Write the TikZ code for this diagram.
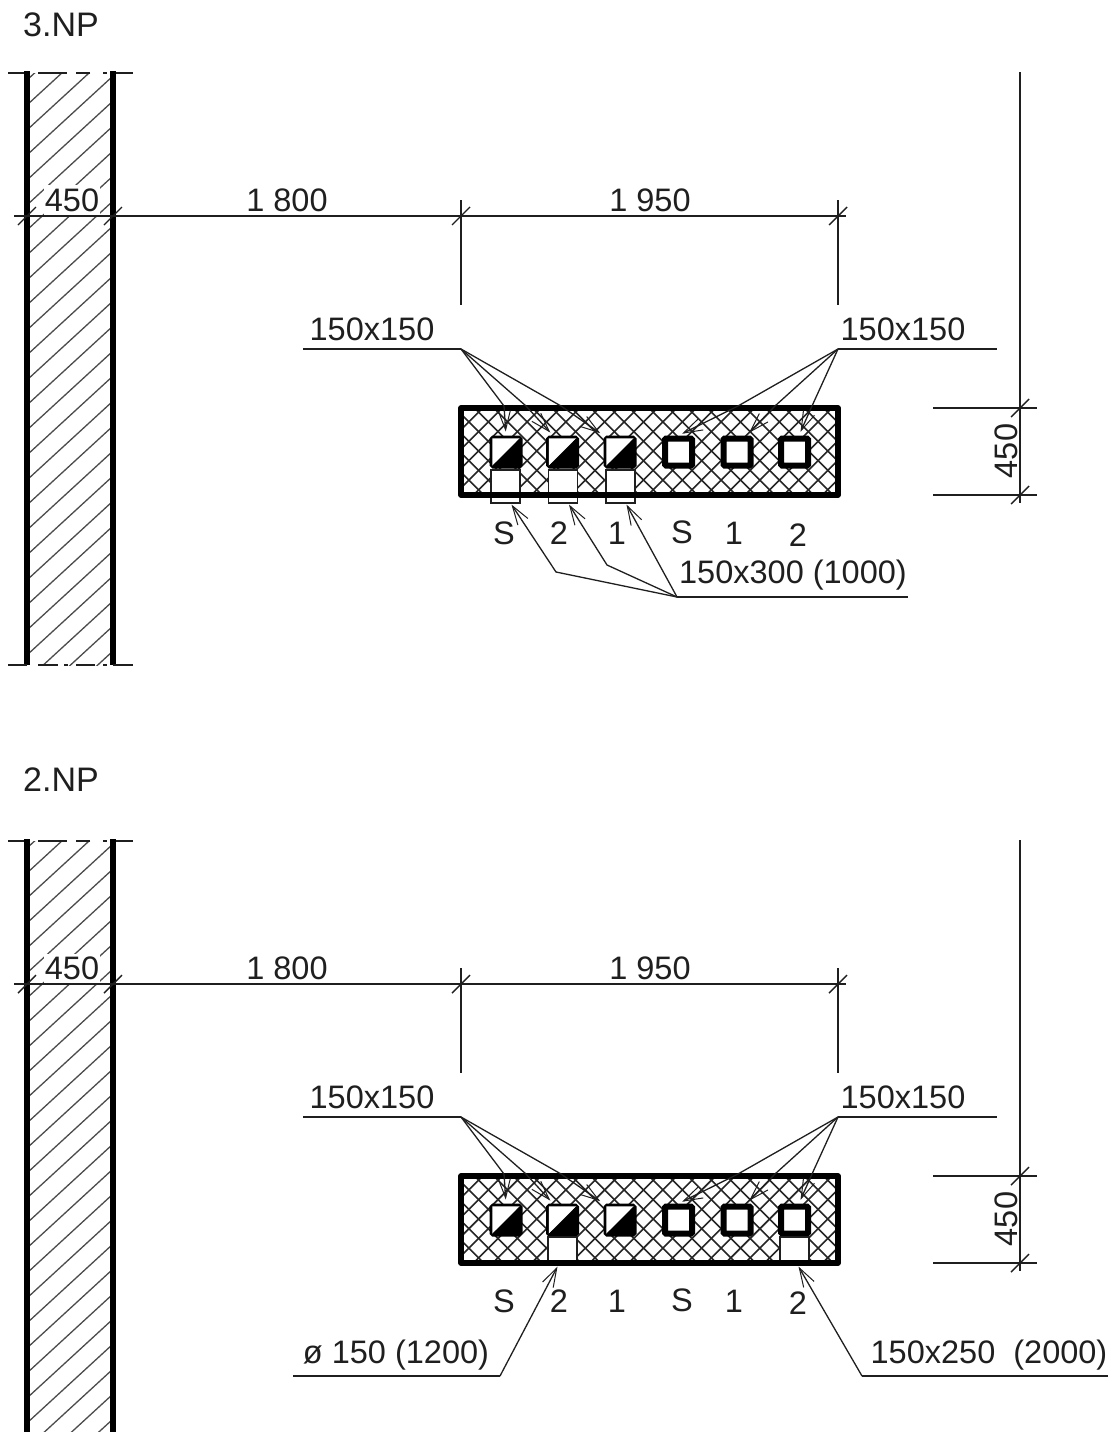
\documentclass[tikz,border=0pt]{standalone}
\usepackage{fontspec}
\setmainfont{Liberation Sans}
\usetikzlibrary{arrows.meta,calc}
\definecolor{ink}{gray}{0.12}
\tikzset{
  lbl/.style={inner sep=0pt,text=ink,font=\fontsize{32.5}{32.5}\selectfont},
  ttl/.style={lbl,font=\fontsize{34}{34}\selectfont},
  lblw/.style={lbl,fill=white,inner xsep=1pt,inner ysep=3pt},
  thin line/.style={line width=1.5pt,draw=ink},
  dimline/.style={line width=1.4pt,draw=ink},
  leaderarrow/.style={line width=1.3pt,draw=ink,-{Straight Barb[length=19pt,width=12pt,line width=1pt]}},
  hatchline/.style={line width=1.3pt,draw=black!70},
  crossline/.style={line width=1.6pt,draw=black!85},
  wallline/.style={line width=6.5pt,draw=black},
  boxline/.style={line width=5.5pt,draw=black,line join=round},
  ductsq/.style={draw=black,line width=6pt,fill=white,minimum size=27pt,inner sep=0pt,rounded corners=1pt},
  stubrect/.style={fill=white,draw=ink,line width=1.1pt,minimum width=29pt,inner sep=0pt},
}
% #1 prefix, #2 y shift, #3 wall bottom, #4 last hatch offset
\newcommand{\floorpart}[4]{%
\begin{scope}[shift={(0,#2)}]
  % wall hatching
  \begin{scope}
    \clip (27,73) rectangle (113,#3);
    \foreach \c in {80,105,...,#4} {\draw[hatchline] (27,\c) -- (113,\c-79);}
  \end{scope}
  % top break line
  \foreach \a/\b in {8/30,38/67,76/90,103/107,110/133} {\draw[thin line] (\a,73) -- (\b,73);}
  % wall
  \draw[wallline] (27,71) -- (27,#3);
  \draw[wallline] (113,71) -- (113,#3);
  % horizontal dimension
  \coordinate (#1dl) at (14,216);
  \coordinate (#1dr) at (846,216);
  \node[lblw] (#1d0) at (72,200) {450};
  \draw[dimline] (#1dl) -- (#1dr);
  \node[lbl] (#1d1) at (287,200) {1 800};
  \node[lbl] (#1d2) at (650,200) {1 950};
  \foreach \x in {27,113,461,838} {\draw[dimline] (\x-9,216+9) -- (\x+9,216-9);}
  \coordinate (#1e1t) at (461,200); \coordinate (#1e1b) at (461,305);
  \coordinate (#1e2t) at (838,200); \coordinate (#1e2b) at (838,305);
  \draw[dimline] (#1e1t) -- (#1e1b);
  \draw[dimline] (#1e2t) -- (#1e2b);
  % duct block
  \begin{scope}
    \clip (461,408) rectangle (838,495);
    \foreach \c in {0,19.4,...,480} {
      \draw[crossline] (452+\c,400) -- (452+\c-110,510);
      \draw[crossline] (350+\c,400) -- (350+\c+110,510);
    }
  \end{scope}
  \foreach \n/\x in {1/506,2/562.5,3/620,4/678.5,5/737,6/794.5} {
    \node[ductsq] (#1s\n) at (\x,452) {};
  }
  \foreach \n in {1,2,3} {
    \fill[white] (#1s\n.north west) ++(2.75,2.75) -- ($(#1s\n.north east)+(-2.75,2.75)$) -- ($(#1s\n.south west)+(2.75,-2.75)$) -- cycle;
    \fill[black] ($(#1s\n.north east)+(-2.75,2.75)$) -- ($(#1s\n.south east)+(-2.75,-2.75)$) -- ($(#1s\n.south west)+(2.75,-2.75)$) -- cycle;
  }
\end{scope}}
% #1 prefix, #2 y shift: box outline, leaders, labels
\newcommand{\floortop}[2]{%
\begin{scope}[shift={(0,#2)}]
  \node[inner sep=0pt,minimum width=377pt,minimum height=87pt,boxline,draw] (#1box) at (649.5,451.5) {};
  \coordinate (#1L) at (461,349);
  \coordinate (#1R) at (838,349);
  \coordinate (#1Lend) at (303,349);
  \coordinate (#1Rend) at (997,349);
  \node[lbl] (#1tl) at (372,329) {150x150};
  \node[lbl] (#1tr) at (903,329) {150x150};
  \draw[thin line] (#1Lend) -- (#1L);
  \draw[thin line] (#1R) -- (#1Rend);
  \coordinate (#1b1) at (504,406); \coordinate (#1b2) at (526,406); \coordinate (#1b3) at (561,406);
  \coordinate (#1b4) at (738,406); \coordinate (#1b5) at (775,406); \coordinate (#1b6) at (812,406);
  \draw[leaderarrow,shorten >=4pt] (#1L) -- (#1b1) -- (#1s1.north);
  \draw[leaderarrow,shorten >=4pt] (#1L) -- (#1b2) -- (#1s2.120);
  \draw[leaderarrow,shorten >=4pt] (#1L) -- (#1b3) -- (#1s3.135);
  \draw[leaderarrow,shorten >=4pt] (#1R) -- (#1b4) -- (#1s4.north);
  \draw[leaderarrow,shorten >=4pt] (#1R) -- (#1b5) -- (#1s5.60);
  \draw[leaderarrow,shorten >=4pt] (#1R) -- (#1b6) -- (#1s6.75);
  % right vertical dimension
  \coordinate (#1vt) at (1020,72);
  \coordinate (#1vb) at (1020,503);
  \draw[dimline] (#1vt) -- (#1vb);
  \coordinate (#1h1a) at (933,408); \coordinate (#1h1b) at (1037,408);
  \coordinate (#1h2a) at (933,495); \coordinate (#1h2b) at (1037,495);
  \draw[dimline] (#1h1a) -- (#1h1b);
  \draw[dimline] (#1h2a) -- (#1h2b);
  \foreach \y in {408,495} {\draw[dimline] (1020-9,\y+9) -- (1020+9,\y-9);}
  \node[lbl,rotate=90] (#1v) at (1006,451) {450};
  % column letters
  \node[lbl] (#1c1) at (504,533) {S};
  \node[lbl] (#1c2) at (559,533) {2};
  \node[lbl] (#1c3) at (617,533) {1};
  \node[lbl] (#1c4) at (682,532) {S};
  \node[lbl] (#1c5) at (734,533) {1};
  \node[lbl] (#1c6) at (798,535) {2};
\end{scope}}
\begin{document}
\begin{tikzpicture}[x=1pt,y=-1pt]
\useasboundingbox (0,0) rectangle (1118,1432);
\fill[white] (0,0) rectangle (1118,1432);

\node[ttl] (t3) at (61,25) {3.NP};
\node[ttl] (t2) at (61,780) {2.NP};

% ---------- 3.NP
\floorpart{a}{0}{665}{780}
\foreach \a/\b in {8/27,38/58,64/68,76/95,103/107,113/133} {\draw[thin line] (\a,665) -- (\b,665);}
% stubs under the squares, floor 3
\foreach \n/\x in {1/505.5,2/563,3/620.5} {
  \node[stubrect,minimum height=33pt] (ar\n) at (\x,486.5) {};
}
\floortop{a}{0}
\foreach \n in {1,2,3} {\fill[black] ($(ar\n.south west)+(0,-11)$) rectangle ($(ar\n.south east)+(0,-6)$);}
\coordinate (aJ) at (677,597);
\coordinate (aEnd) at (908,597);
\coordinate (aB1) at (556,572);
\coordinate (aB2) at (607,565);
\node[lbl] (an) at (793,575) {150x300 (1000)};
\draw[thin line] (aJ) -- (aEnd);
\draw[leaderarrow] (aJ) -- (aB1) -- ($(ar1.south)+(6,1)$);
\draw[leaderarrow] (aJ) -- (aB2) -- ($(ar2.south)+(6,1)$);
\draw[leaderarrow] (aJ) -- ($(ar3.south)+(6,1)$);

% ---------- 2.NP
\floorpart{b}{768}{700}{780}
\foreach \n/\x in {2/562.5,6/794.5} {
  \node[stubrect,minimum height=26pt] (br\n) at (\x,1250) {};
}
\floortop{b}{768}
\coordinate (bJ1) at (500,1376);
\coordinate (bEnd1) at (293,1376);
\coordinate (bJ2) at (862,1376);
\coordinate (bEnd2) at (1108,1376);
\node[lbl] (bn1) at (396,1355) {ø 150 (1200)};
\node[lbl] (bn2) at (989,1355) {150x250\ \ (2000)};
\draw[thin line] (bEnd1) -- (bJ1);
\draw[thin line] (bEnd2) -- (bJ2);
\draw[leaderarrow] (bJ1) -- ($(br2.south)+(-5,3)$);
\draw[leaderarrow] (bJ2) -- ($(br6.south)+(4,3)$);
\end{tikzpicture}
\end{document}
